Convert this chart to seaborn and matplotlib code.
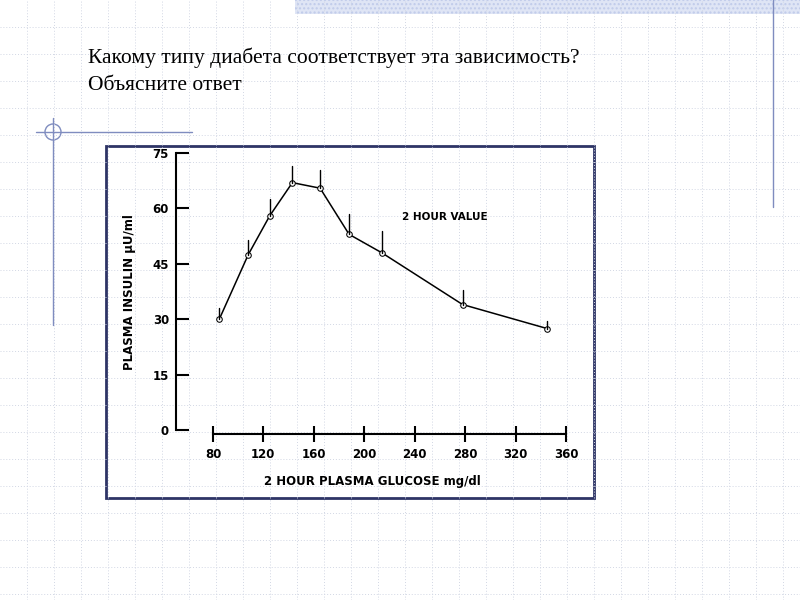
import matplotlib
matplotlib.use("Agg")
import matplotlib.pyplot as plt
import seaborn as sns
import pandas as pd
from matplotlib.patches import Rectangle, Circle

# values
glucose = [85, 108, 125, 143, 165, 188, 214, 278, 345]
insulin = [30, 47.5, 58, 67, 65.5, 53, 48, 34, 27.5]
err_top = [33, 51.5, 62.5, 71.5, 70.5, 58.5, 54, 38, 29.5]
x_ticks = [80, 120, 160, 200, 240, 280, 320, 360]
y_ticks = [0, 15, 30, 45, 60, 75]
title_lines = ["Какому типу диабета соответствует эта зависимость?", "Объясните ответ"]

df = pd.DataFrame({"glucose": glucose, "insulin": insulin})

sns.set_theme(style="white")
plt.rcParams["text.color"] = "black"
plt.rcParams["axes.labelcolor"] = "black"
plt.rcParams["xtick.color"] = "black"
plt.rcParams["ytick.color"] = "black"
fig = plt.figure(figsize=(8, 6), dpi=100)

# slide background in pixel coordinates
bg = fig.add_axes([0, 0, 1, 1])
bg.set_xlim(0, 800)
bg.set_ylim(600, 0)
bg.axis("off")
for v in range(27, 800, 27):
    bg.axvline(v, color="#d2d7e4", lw=0.7, ls=(0, (1, 2)))
for h in range(27, 600, 27):
    bg.axhline(h, color="#d2d7e4", lw=0.7, ls=(0, (1, 2)))
bg.add_patch(Rectangle((295, 0), 505, 14, facecolor="#dfe5f5", edgecolor="#c0cbea", hatch="....", lw=0))
bg.plot([773, 773], [0, 207], color="#7f8cbf", lw=1)
bg.plot([36, 192], [132, 132], color="#7f8cbf", lw=1)
bg.plot([53, 53], [118, 325], color="#7f8cbf", lw=1)
bg.add_patch(Circle((53, 132), 8, fill=False, edgecolor="#7f8cbf", lw=1))
bg.add_patch(Rectangle((106, 146), 488, 352, facecolor="white", edgecolor="#2e3466", lw=2))
for i, line in enumerate(title_lines):
    bg.text(88, 58 + i * 28, line, family="Liberation Serif", fontsize=15.5, va="center", color="black")

# the chart
ax = fig.add_axes([0.22, 0.277, 0.4906, 0.474])
ax.patch.set_alpha(0)
sns.lineplot(data=df, x="glucose", y="insulin", ax=ax, color="black", lw=1.1,
             marker="o", markersize=4, markerfacecolor="white", markeredgecolor="black")
for gx, lo, hi in zip(glucose, insulin, err_top):
    ax.plot([gx, gx], [lo, hi], color="black", lw=1)
ax.set_xlim(50.7, 362)
ax.set_ylim(-1, 76)
for s in ["top", "right"]:
    ax.spines[s].set_visible(False)
ax.spines["left"].set_bounds(0, 75)
ax.spines["bottom"].set_bounds(80, 360)
for s in ["left", "bottom"]:
    ax.spines[s].set_color("black")
    ax.spines[s].set_linewidth(1.5)
ax.set_xticks(x_ticks)
ax.set_yticks(y_ticks)
ax.tick_params(axis="y", left=True, direction="in", length=9, width=1.5, labelsize=8.5, pad=5)
ax.tick_params(axis="x", bottom=True, direction="inout", length=12, width=1.5, labelsize=8.5, pad=4)
for lab in ax.get_xticklabels() + ax.get_yticklabels():
    lab.set_fontweight("bold")
ax.set_xlabel("2 HOUR PLASMA GLUCOSE mg/dl", fontsize=8.5, fontweight="bold", labelpad=10)
ax.set_ylabel("PLASMA INSULIN μU/ml", fontsize=8.5, fontweight="bold", labelpad=12)
ax.text(230, 57, "2 HOUR VALUE", fontsize=7.5, fontweight="bold")

fig.savefig("out.png", dpi=100)
